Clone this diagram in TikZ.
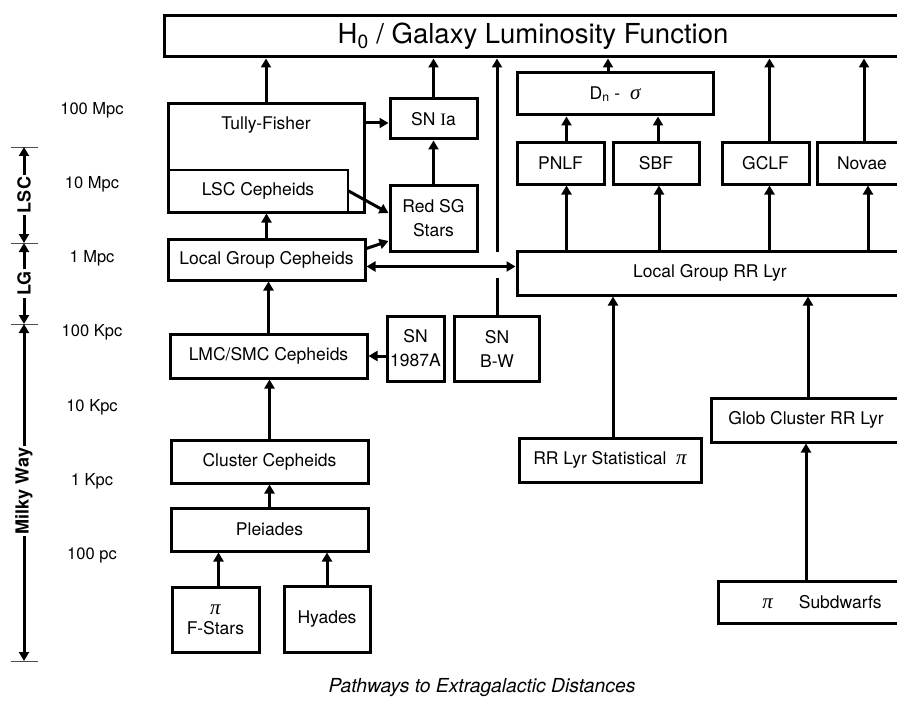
\documentclass[tikz,border=0pt]{standalone}
\usepackage{fontspec}
\setmainfont{TeX Gyre Heros}
\newfontfamily\romanI{Liberation Serif}
\newcommand{\ppi}{{\romanI\itshape\fontsize{21}{24}\selectfont π}}
\newcommand{\psig}{{\romanI\itshape\fontsize{21}{24}\selectfont σ}}
\usetikzlibrary{arrows.meta}

\begin{document}
\begin{tikzpicture}[x=1pt,y=-1pt,
  box/.style={draw, line width=3pt, inner sep=0pt, align=center, font=\fontsize{17.5}{24}\selectfont},
  thinbox/.style={draw, line width=1.2pt, inner sep=0pt, font=\fontsize{17.5}{24}\selectfont},
  txt/.style={inner sep=0pt, font=\fontsize{17.5}{24}\selectfont},
  dist/.style={inner sep=0pt, font=\fontsize{16.5}{20}\selectfont},
  axlbl/.style={inner sep=2pt, rotate=90, font=\fontsize{18}{20}\selectfont\bfseries},
  arr/.style={line width=3pt, -{Triangle[length=9pt,width=10pt]}},
  dblarr/.style={line width=3pt, {Triangle[length=9pt,width=10pt]}-{Triangle[length=9pt,width=10pt]}}]
\useasboundingbox (0,0) rectangle (897,706);
\clip (0,0) rectangle (897,706);

% top box
\node[box, minimum width=738pt, minimum height=41pt, font=\fontsize{27.5}{30}\selectfont] (h0) at (533,36.5) {H\textsubscript{0} / Galaxy Luminosity Function};

% Cepheid column
\node[thinbox, minimum width=180pt, minimum height=42pt] (lscc) at (258,191) {LSC Cepheids};
\node[box, minimum width=196pt, minimum height=108pt] (tf) at (266,158) {};
\node[txt] (tflbl) at (266,125) {Tully-Fisher};
\node[box, minimum width=87pt, minimum height=40pt] (snia) at (433.5,119) {SN {\romanI I}a};
\node[box, minimum width=87pt, minimum height=66pt] (rsg) at (433.5,218) {Red SG\\Stars};
\node[box, minimum width=197pt, minimum height=41pt] (lgc) at (266.5,259.5) {Local Group Cepheids};
\node[box, minimum width=57pt, minimum height=65pt] (sn87) at (415.5,348.5) {SN\\1987A};
\node[box, minimum width=197pt, minimum height=44pt] (lmc) at (268.5,356) {LMC/SMC Cepheids};
\node[box, minimum width=85pt, minimum height=65pt] (snbw) at (497,348.5) {SN\\B-W};
\node[box, minimum width=197pt, minimum height=43pt] (clc) at (269.5,461.5) {Cluster Cepheids};
\node[box, minimum width=197pt, minimum height=43pt] (pl) at (269.5,529.5) {Pleiades};
\node[box, minimum width=87pt, minimum height=65pt] (fst) at (215.5,619.5) {\ppi\\[-4pt]F-Stars};
\node[box, minimum width=86pt, minimum height=66pt] (hy) at (327,619) {Hyades};

% RR Lyrae side
\node[box, minimum width=196pt, minimum height=42pt] (dns) at (615,94) {D\textsubscript{n} -\ \ \psig};
\node[box, minimum width=87pt, minimum height=41pt] (pnlf) at (560.5,163.5) {PNLF};
\node[box, minimum width=86pt, minimum height=41pt] (sbf) at (656,163.5) {SBF};
\node[box, minimum width=87pt, minimum height=41pt] (gclf) at (765.5,163.5) {GCLF};
\node[box, minimum width=90pt, minimum height=41pt] (novae) at (862,163.5) {Novae};
\node[box, minimum width=386pt, minimum height=44pt] (rrlg) at (710,273) {Local Group RR Lyr};
\node[box, minimum width=182pt, minimum height=44pt] (rrstat) at (610,460) {RR Lyr Statistical\ \ \ppi};
\node[box, minimum width=190pt, minimum height=44pt] (glob) at (806,420) {Glob Cluster RR Lyr};
\node[box, minimum width=208pt, minimum height=42pt] (subd) at (822,602) {\ppi\hspace{26pt}Subdwarfs};

% connectors
\draw[arr] (tf.north) -- (tf.north |- h0.south);
\draw[arr] (snia.north) -- (snia.north |- h0.south);
\draw[arr] (rsg.north) -- (snia.south);
\draw[arr] ([yshift=-4pt]tf.east |- snia.west) -- ([yshift=-4pt]snia.west);
\draw[arr] (lscc.east) -- ([yshift=5pt]rsg.west);
\draw[arr] ([yshift=11pt]lgc.east) -- ([yshift=-23pt]rsg.west);
\draw[arr] (lgc.north) -- (lgc.north |- tf.south);
\draw[dblarr] ([yshift=-7pt]lgc.east) -- ([yshift=-7pt]lgc.east -| rrlg.west);
\draw[arr] (lmc.north) -- (lmc.north |- lgc.south);
\draw[arr] (lmc.east -| sn87.west) -- (lmc.east);
\draw[arr] (clc.north) -- (clc.north |- lmc.south);
\draw[arr] (pl.north) -- (pl.north |- clc.south);
\draw[arr] ([xshift=3pt]fst.north) -- ([xshift=3pt]fst.north |- pl.south);
\draw[arr] (hy.north) -- (hy.north |- pl.south);
% SN B-W line, broken where the double arrow crosses
\coordinate (bwlo) at (497,278);
\coordinate (bwhi) at (497,252);
\draw[line width=3pt] (snbw.north) -- (bwlo);
\draw[arr] (bwhi) -- (bwhi |- h0.south);

\draw[arr] ([xshift=6pt]pnlf.north) -- ([xshift=6pt]pnlf.north |- dns.south);
\draw[arr] ([xshift=2pt]sbf.north) -- ([xshift=2pt]sbf.north |- dns.south);
\draw[arr] ([xshift=-7pt]dns.north) -- ([xshift=-7pt]dns.north |- h0.south);
\draw[arr] ([xshift=4pt]gclf.north) -- ([xshift=4pt]gclf.north |- h0.south);
\draw[arr] ([xshift=2pt]novae.north) -- ([xshift=2pt]novae.north |- h0.south);
\foreach \n/\dx in {pnlf/6,sbf/3,gclf/4,novae/6}
  \draw[arr] ([xshift=\dx pt]\n.south |- rrlg.north) -- ([xshift=\dx pt]\n.south);
\draw[arr] ([xshift=3pt]rrstat.north) -- ([xshift=3pt]rrstat.north |- rrlg.south);
\draw[arr] ([xshift=2pt]glob.north) -- ([xshift=2pt]glob.north |- rrlg.south);
\draw[arr] (subd.north -| glob.north) -- (glob.south);

% distance scale
\foreach \lab [count=\i from 0] in {100 Mpc,10 Mpc,1 Mpc,100 Kpc,10 Kpc,1 Kpc,100 pc}
  \node[dist] (d\i) at (92,{110+74.2*\i}) {\lab};
\foreach \y [count=\i] in {147,243,324,661} {
  \coordinate (tick\i) at (24,\y);
  \draw[line width=0.8pt, black!70] ([xshift=-13pt]tick\i) -- ([xshift=14pt]tick\i);
}
\node[axlbl] (lsc) at (24,195) {LSC};
\node[axlbl] (lg) at (24,283.5) {LG};
\node[axlbl] (mw) at (24,491) {Milky Way};
\draw[arr] (lsc.east) -- (tick1);
\draw[arr] (lsc.west) -- (tick2);
\draw[arr] (lg.east) -- (tick2);
\draw[arr] (lg.west) -- (tick3);
\draw[arr] (mw.east) -- (tick3);
\draw[arr] (mw.west) -- (tick4);

% caption
\node[inner sep=0pt, font=\fontsize{19.3}{22}\selectfont\itshape] (title) at (482,688) {Pathways to Extragalactic Distances};
\end{tikzpicture}
\end{document}
